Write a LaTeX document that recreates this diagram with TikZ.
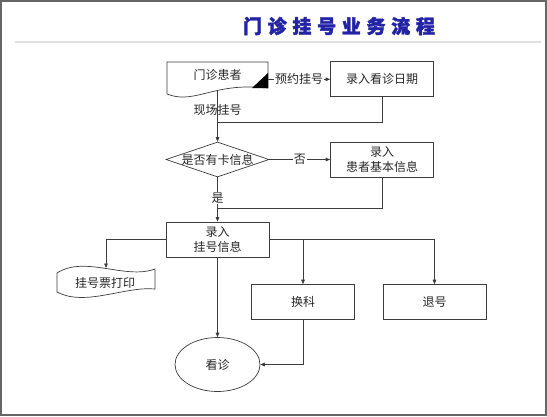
\documentclass[tikz,border=0pt]{standalone}
\usepackage{fontspec}
\usepackage{xcolor}
\usetikzlibrary{shapes.geometric, arrows.meta}
\newfontfamily\cjk{Noto Sans CJK SC}
\newfontfamily\cjktitle[LetterSpace=30, FakeBold=2]{Noto Sans CJK SC}
\definecolor{titleblue}{RGB}{35,35,165}
\definecolor{linegray}{RGB}{60,60,60}

\begin{document}
\begin{tikzpicture}[x=1pt, y=-1pt,
    every node/.style={font=\cjk\fontsize{12}{15}\selectfont, text=black!85},
    proc/.style={draw=linegray, line width=0.7pt, minimum width=103pt, minimum height=35pt, inner sep=0pt, align=center},
    decision/.style={draw=linegray, line width=0.7pt, shape=diamond, minimum width=103pt, minimum height=35pt, inner sep=0pt},
    visitshape/.style={draw=linegray, line width=0.7pt, shape=ellipse, minimum width=85pt, minimum height=54pt, inner sep=0pt},
    link/.style={draw=linegray, line width=0.7pt},
    arr/.style={link, -{Triangle[length=4.5pt, width=3.6pt]}},
    lbl/.style={fill=white, inner sep=1pt}]
    \useasboundingbox (0,0) rectangle (547,416);
    % Rahmen und Titel
    \draw[black!60, line width=2pt] (1,1) rectangle (546,415);
    \node[font=\cjktitle\bfseries\fontsize{19}{21}\selectfont, text=titleblue] (title) at (339,26) {门诊挂号业务流程};
    \draw[black!12, line width=2pt] (15,41.7) -- (541,41.7);
    % Patient (document)
    \draw[link] (167,62) -- (268,62) -- (268,88) -- (252,87)
        .. controls (210,86) and (192,104) .. (167,94) -- cycle;
    \fill[black] (252,88) -- (268,73) -- (268,88) -- cycle;
    \node (patient) at (217.5,75) {门诊患者};
    \coordinate (patR) at (268,79.3);
    \coordinate (patB) at (217.5,90);
    % Schritte
    \node[proc] (date) at (382,79.3) {录入看诊日期};
    \node[decision, label=center:{是否有卡信息}] (card) at (217.5,159.5) {};
    \node[proc] (info) at (382,159.8) {录入\\患者基本信息};
    \node[proc] (reg) at (217.5,239.4) {录入\\挂号信息};
    \node[proc] (change) at (303,302) {换科};
    \node[proc] (quit) at (434.5,302) {退号};
    \node[visitshape] (visit) at (217.5,364.5) {看诊};
    % Ticket (tape)
    \draw[link] (57,273) .. controls (85,255) and (125,280) .. (155,269) -- (155,289)
        .. controls (125,286) and (85,307) .. (57,292) -- cycle;
    \node (ticket) at (105,283) {挂号票打印};
    \coordinate (ticketT) at (106,268);
    % Verbindungen
    \coordinate (j1) at (217.5,122);
    \coordinate (j2) at (217.5,208.3);
    \draw[arr] (patR) -- node[lbl] {预约挂号} (patR -| date.west);
    \draw[arr] (patB) -- (card.north);
    \node (walkin) at (217.5,110) {现场挂号};
    \draw[link] (date.south) |- (j1);
    \draw[arr] (card.east) -- node[lbl] {否} (card.east -| info.west);
    \draw[link] (card.south) -- node[lbl, pos=0.67] {是} (j2);
    \draw[link] (info.south) |- (j2);
    \draw[arr] (j2) -- (reg.north);
    \draw[arr] (reg.west) -| (ticketT);
    \draw[arr] (reg.east) -| (quit.north);
    \draw[arr] (change.north |- reg.east) -- (change.north);
    \draw[arr] (reg.south) -- (visit.north);
    \draw[arr] (change.south) |- (visit.east);
\end{tikzpicture}
\end{document}
